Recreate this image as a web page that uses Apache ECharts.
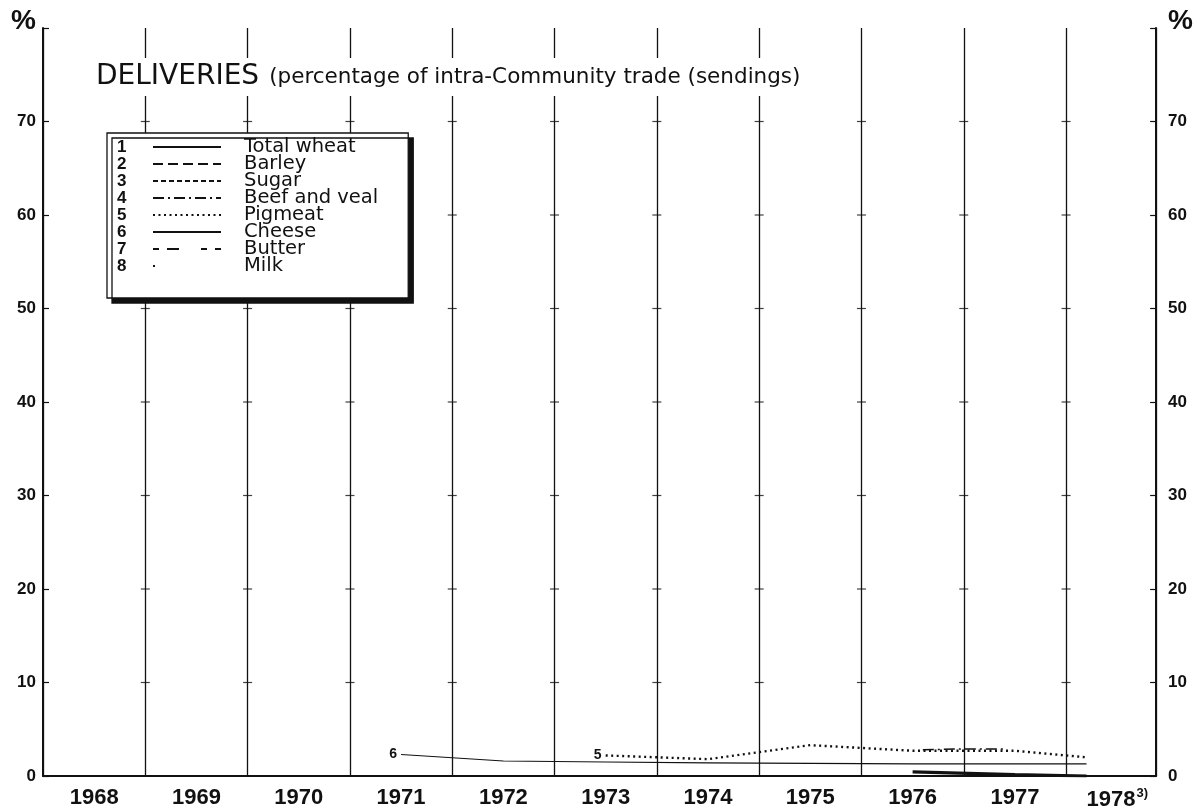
<!DOCTYPE html>
<html>
<head>
<meta charset="utf-8">
<script src="https://cdn.jsdelivr.net/npm/echarts@6/dist/echarts.min.js"></script>
<style>
  html, body { margin: 0; padding: 0; background: #fff; }
  #chart { width: 1196px; height: 811px; }
</style>
</head>
<body>
<div id="chart"></div>
<script>
var myChart = echarts.init(document.getElementById('chart'));

// year bands on the x axis (labels sit in the middle of each band)
var years = ['1968', '1969', '1970', '1971', '1972', '1973', '1974', '1975', '1976', '1977', '1978'];
var yTicks = [0, 10, 20, 30, 40, 50, 60, 70];

// legend entries, numbered 1..8
var products = ['Total wheat', 'Barley', 'Sugar', 'Beef and veal', 'Pigmeat', 'Cheese', 'Butter', 'Milk'];

// values, [year, %]
var wheat = [[1976.5, 0.45], [1977.5, 0.15], [1978.2, 0.0]];
var barley = [];
var sugar = [];
var beef = [[1976.6, 2.8], [1977.0, 2.9], [1977.4, 2.9]];
var pigmeat = [[1973.5, 2.2], [1974.5, 1.8], [1975.5, 3.3], [1976.5, 2.7], [1977.5, 2.7], [1978.2, 2.0]];
var cheese = [[1971.5, 2.3], [1972.5, 1.6], [1973.5, 1.5], [1974.5, 1.4], [1975.5, 1.35], [1976.5, 1.3], [1977.5, 1.3], [1978.2, 1.3]];
var butter = [];
var milk = [];

var ink = '#111';
var face = 'DejaVu Sans';

var lineStyles = [
    {width: 3.2, type: 'solid'},
    {width: 2.2, type: [10, 5]},
    {width: 1.6, type: [5, 3]},
    {width: 1.5, type: [11, 4, 2, 4]},
    {width: 2.4, type: [2, 3.5]},
    {width: 1.1, type: 'solid'},
    {width: 1, type: [6, 8, 12, 22]},
    {width: 1.5, type: [2, 90]}
];
var seriesData = [wheat, barley, sugar, beef, pigmeat, cheese, butter, milk];

// number written at the start of a curve
function startLabel(data, txt) {
    return data.map(function (d, i) {
        if (i !== 0) return d;
        return {value: d, label: {show: true, position: 'left', formatter: txt, fontWeight: 'bold',
            fontSize: 14, color: ink, fontFamily: 'Liberation Sans', distance: 4}};
    });
}

var series = products.map(function (name, i) {
    var d = seriesData[i];
    var tagged = name === 'Cheese' || name === 'Pigmeat';
    if (name === 'Cheese') d = startLabel(d, '6');
    if (name === 'Pigmeat') d = startLabel(d, '5');
    return {
        name: name,
        type: 'line',
        data: d,
        symbol: tagged ? 'circle' : 'none',
        symbolSize: 0.1,
        showSymbol: tagged,
        silent: true,
        lineStyle: {color: ink, width: lineStyles[i].width, type: lineStyles[i].type},
        itemStyle: {color: ink},
        z: 5
    };
});

// small crosses where the year lines meet every 10 %
var crosses = [];
years.slice(1).forEach(function (y) {
    yTicks.slice(1).forEach(function (v) { crosses.push([+y, v]); });
});
series.push({
    type: 'scatter',
    data: crosses,
    symbol: 'rect',
    symbolSize: [9, 1.2],
    silent: true,
    itemStyle: {color: ink},
    z: 3
});

// legend geometry (rows are about 20px of text pulled together by a negative gap)
var lgTop = 133, lgLeft = 107, lgPadTop = 4, textH = 20, rowGap = -3;
var rowH = textH + rowGap;

var option = {
    backgroundColor: '#fff',
    animation: false,
    textStyle: {fontFamily: 'Liberation Sans'},
    title: {
        text: '{a|DELIVERIES}  {b|(percentage of intra-Community trade (sendings)}',
        left: 90,
        top: 58,
        backgroundColor: '#fff',
        padding: [5, 6],
        textStyle: {
            fontWeight: 'normal',
            rich: {
                a: {fontSize: 28, color: ink, fontWeight: 'normal', fontFamily: face},
                b: {fontSize: 21.5, color: ink, fontWeight: 'normal', fontFamily: face}
            }
        }
    },
    legend: {
        data: products,
        orient: 'vertical',
        left: lgLeft,
        top: lgTop,
        padding: [lgPadTop, 30, 22, 45],
        itemWidth: 68,
        itemHeight: 12,
        itemGap: rowGap,
        backgroundColor: '#fff',
        borderColor: ink,
        borderWidth: 1.3,
        shadowColor: ink,
        shadowBlur: 0,
        shadowOffsetX: 5,
        shadowOffsetY: 5,
        selectedMode: false,
        itemStyle: {opacity: 0},
        textStyle: {fontSize: 19.5, color: ink, fontFamily: face, padding: [0, 0, 0, 18]}
    },
    grid: {left: 43, right: 39, top: 28, bottom: 35},
    xAxis: {
        type: 'value',
        min: 1968,
        max: 1978.88,
        interval: 1,
        axisLine: {show: true, lineStyle: {color: ink, width: 2.2}},
        axisTick: {show: false},
        splitLine: {show: true, lineStyle: {color: ink, width: 1.3}},
        axisLabel: {
            customValues: years.map(function (y) { return +y + 0.5; }),
            formatter: function (v) {
                var y = String(Math.floor(v));
                return y === '1978' ? y + '{s|3)}' : y;
            },
            fontSize: 22,
            fontWeight: 'bold',
            color: ink,
            margin: 11,
            rich: {s: {fontSize: 13, fontWeight: 'bold', color: ink, verticalAlign: 'top', padding: [0, 0, 12, 1]}}
        }
    },
    yAxis: [0, 1].map(function (k) {
        return {
            type: 'value',
            position: k === 0 ? 'left' : 'right',
            min: 0,
            max: 80,
            interval: 10,
            axisLine: {show: true, onZero: false, lineStyle: {color: ink, width: 2}},
            axisTick: {show: true, inside: true, length: 6, lineStyle: {color: ink, width: 1.2}},
            splitLine: {show: false},
            axisLabel: {
                fontSize: 17,
                fontWeight: 'bold',
                color: ink,
                margin: k === 0 ? 7 : 12,
                formatter: function (v) { return v === 80 ? '{p|%}' : String(v); },
                rich: {p: {fontSize: 28, fontWeight: 'bold', color: ink, padding: [0, 0, 14, 0]}}
            }
        };
    }),
    graphic: products.map(function (p, i) {
        return {
            type: 'text',
            left: lgLeft + 10,
            top: lgTop + lgPadTop + i * rowH + 2,
            z: 100,
            style: {text: String(i + 1), fontSize: 17, fontWeight: 'bold', fontFamily: 'Liberation Sans', fill: ink}
        };
    }),
    series: series
};

myChart.setOption(option);
</script>
</body>
</html>
